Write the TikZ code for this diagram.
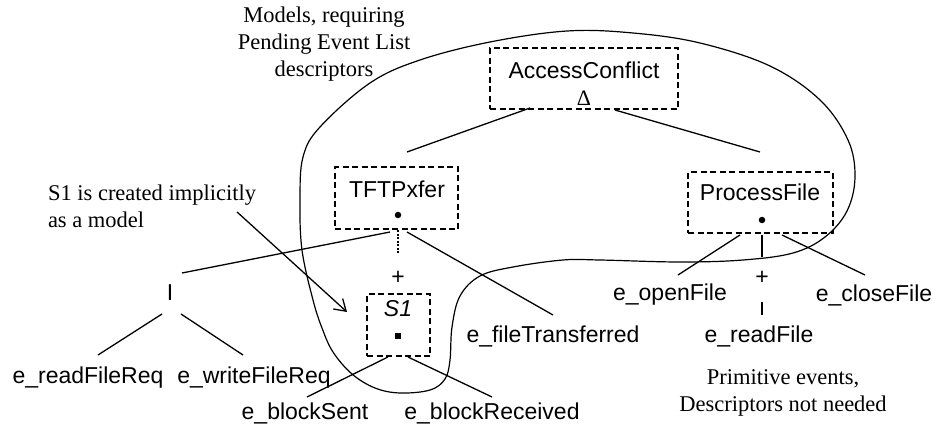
\documentclass[tikz,border=0pt]{standalone}
\usepackage{fontspec}
\setmainfont{Liberation Serif}
\newfontfamily\hv{Liberation Sans}
\usetikzlibrary{arrows.meta,calc}

\begin{document}
\begin{tikzpicture}[x=1pt,y=-1pt,
  every node/.style={inner sep=0pt, outer sep=0pt},
  model/.style={draw, rectangle, dash pattern=on 6pt off 3.5pt, line width=1.2pt},
  lbl/.style={font=\hv\fontsize{23}{27}\selectfont},
  note/.style={font=\fontsize{22.5}{27}\selectfont},
  link/.style={line width=1.3pt},
  tie/.style={line width=1.3pt, dash pattern=on 2pt off 1.5pt},
  dotmark/.style={circle, fill, minimum size=6.5pt},
  sqmark/.style={rectangle, fill, minimum size=5.5pt}
]
\useasboundingbox (0,0) rectangle (938,431);

% boundary of the models that need descriptors
\draw[line width=1.2pt] plot[smooth cycle, tension=0.6] coordinates {
  (300,200) (303,157) (320,127) (370,83) (420,60) (490,42) (567,31)
  (633,33) (700,43) (770,66) (820,100) (848,140) (855,177) (847,211)
  (825,237) (793,253) (743,260) (680,262) (600,260) (563,260) (513,267)
  (480,276) (460,296) (452,327) (450,360) (445,379) (430,390) (400,393)
  (375,388) (352,374) (333,352) (322,328) (313,300) (302,250)};

% annotations
\node[note, align=center] (mdl) at (324,44) {Models, requiring\\Pending Event List\\descriptors};
\node[note, align=left, anchor=west] (impl) at (48,206) {S1 is created implicitly\\as a model};
\node[note, align=center] (prim) at (783,393) {Primitive events,\\Descriptors not needed};

% model boxes
\node[model, minimum width=188pt, minimum height=61pt] (ac) at (584,78.5) {};
\node[lbl] (acname) at (584,70) {AccessConflict};
\node[font=\fontsize{22}{22}\selectfont] (acdelta) at (584,98) {Δ};

\node[model, minimum width=123pt, minimum height=62pt] (tftp) at (396.5,198) {};
\node[lbl] (tftpname) at (397,189) {TFTPxfer};
\node[dotmark] (tftpdot) at (398,215) {};

\node[model, minimum width=63pt, minimum height=62pt] (s1) at (398.5,325) {};
\node[lbl, font=\hv\itshape\fontsize{23}{27}\selectfont] (s1name) at (398,309) {S1};
\node[sqmark] (s1dot) at (398,336) {};

\node[model, minimum width=145pt, minimum height=61pt] (pf) at (760.5,202.5) {};
\node[lbl] (pfname) at (760,192) {ProcessFile};
\node[dotmark] (pfdot) at (762,220) {};

% event labels
\node[lbl] (bar) at (170,293) {I};
\node[lbl] (erq) at (88,378) {e\_readFileReq};
\node[lbl] (ewq) at (254,378) {e\_writeFileReq};
\node[lbl] (ebs) at (305,413) {e\_blockSent};
\node[lbl] (ebr) at (492,413) {e\_blockReceived};
\node[lbl] (eft) at (553,336) {e\_fileTransferred};
\node[lbl] (eof) at (670,295) {e\_openFile};
\node[lbl] (erf) at (759,336) {e\_readFile};
\node[lbl] (ecf) at (874,295) {e\_closeFile};
\node[lbl] (plusa) at (398,278) {+};
\node[lbl] (plusb) at (762,278) {+};

% hierarchy links
\draw[link] ($(ac)+(-54,29.5)$) -- ($(tftp)+(10.5,-46)$);
\draw[link] ($(ac)+(31,31.5)$) -- ($(pf)+(-0.5,-50.5)$);
\draw[link] ($(tftp)+(-6.5,34)$) -- ($(bar)+(12,-20)$);
\draw[link] ($(tftp)+(10.5,34)$) -- ($(eft)+(0,-21)$);
\draw[tie] ($(tftp)+(1.5,32)$) -- ($(plusa)+(0,-24)$);
\draw[link] ($(bar)+(-8,21)$) -- ($(erq)+(10,-23)$);
\draw[link] ($(bar)+(11,21)$) -- ($(ewq)+(-11,-23)$);
\draw[link] ($(s1)+(-10.5,32)$) -- ($(ebs)+(2,-16)$);
\draw[link] ($(s1)+(9.5,32)$) -- ($(ebr)+(0,-16)$);
\draw[link] ($(pf)+(-20.5,32.5)$) -- ($(eof)+(8,-20)$);
\draw[link] ($(pf)+(1.5,32.5)$) -- ($(plusb)+(0,-21)$);
\draw[link] ($(plusb)+(0,24)$) -- ($(erf)+(3,-21)$);
\draw[link] ($(pf)+(21.5,32.5)$) -- ($(ecf)+(-9,-20)$);

% pointer from the annotation to S1
\draw[link, -{Straight Barb[length=11pt, width=14pt, line width=1.3pt]}]
  ($(impl.east)+(-19,6)$) -- ($(s1)+(-51.5,-13)$);
\end{tikzpicture}
\end{document}
